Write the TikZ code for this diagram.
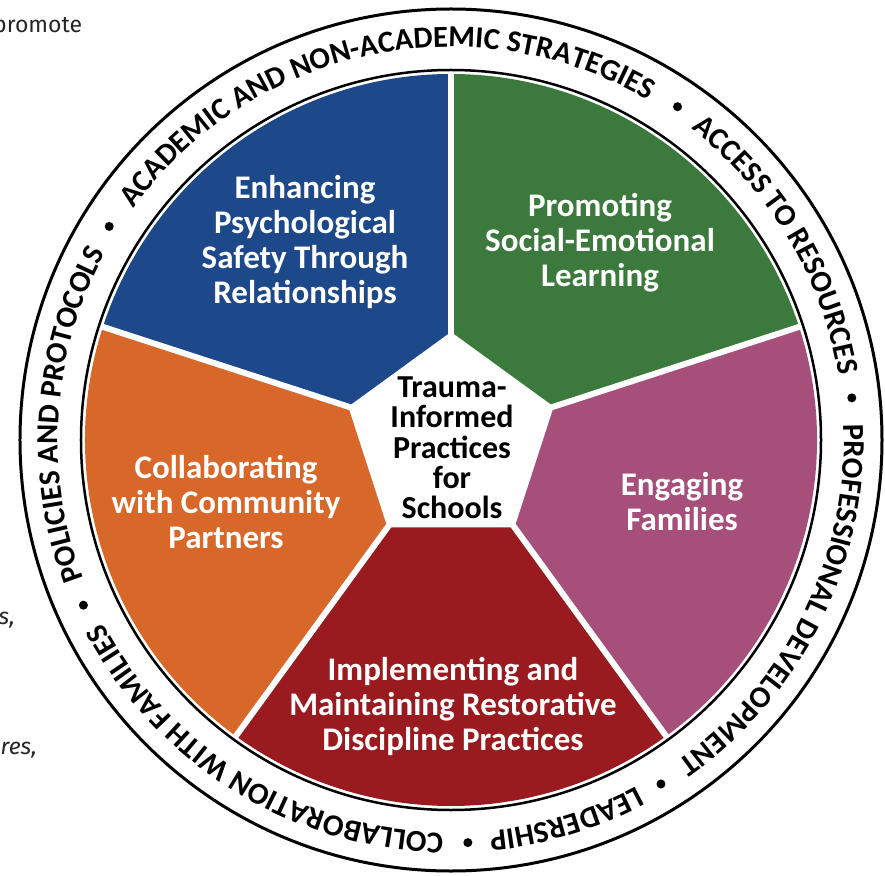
\documentclass[tikz,border=0pt]{standalone}
\usepackage{fontspec}
\setmainfont{Carlito}
\newfontfamily\handfont{Fira Sans}
\usetikzlibrary{decorations.text}
\definecolor{secblue}{HTML}{1D4889}
\definecolor{secgreen}{HTML}{3B7A3C}
\definecolor{secpurple}{HTML}{A54F7A}
\definecolor{secred}{HTML}{9A1B1F}
\definecolor{secorange}{HTML}{D8672A}
\tikzset{
  sectxt/.style={text=white, align=center, font=\bfseries\fontsize{33}{35}\selectfont, inner sep=0pt},
  centxt/.style={text=black, align=center, font=\bfseries\fontsize{32}{30.3}\selectfont, inner sep=0pt},
  handtxt/.style={text=black!85, font=\handfont\fontsize{23}{26}\selectfont, inner sep=0pt},
  ringtext/.style={decorate, decoration={text along path, text align=center,
      text={|\bfseries\fontsize{30.5}{30}\selectfont|#1}}},
  sep/.style={white, line width=6pt},
}
\begin{document}
\begin{tikzpicture}[x=1pt,y=1pt]
\useasboundingbox (-451,-435) rectangle (434,440);
\clip (-451,-435) rectangle (434,440);
\fill[white] (-451,-435) rectangle (434,440);
% side fragments
\node[handtxt, anchor=base west] (fragA) at (-458,407) {promote};
\node[handtxt, anchor=base east] (fragB) at (-436,-184) {\itshape s,};
\node[handtxt, anchor=base east] (fragC) at (-414,-314) {\itshape res,};
% sectors
\fill[secblue]   (0,0) -- (90:366pt)  arc[start angle=90,  end angle=162, radius=366pt] -- cycle;
\fill[secorange] (0,0) -- (162:366pt) arc[start angle=162, end angle=234, radius=366pt] -- cycle;
\fill[secred]    (0,0) -- (234:366pt) arc[start angle=234, end angle=306, radius=366pt] -- cycle;
\fill[secpurple] (0,0) -- (306:366pt) arc[start angle=306, end angle=378, radius=366pt] -- cycle;
\fill[secgreen]  (0,0) -- (18:366pt)  arc[start angle=18,  end angle=90,  radius=366pt] -- cycle;
\foreach \a in {90,162,234,306,18} \draw[sep] (0,0) -- (\a:368pt);
\fill[white] (90:108pt) -- (162:108pt) -- (234:108pt) -- (306:108pt) -- (18:108pt) -- cycle;
% ring
\draw[line width=2.5pt] (0,0) circle[radius=370pt];
\draw[line width=3pt] (0,0) circle[radius=431pt];
% ring text
\path[ringtext={POLICIES AND PROTOCOLS}] (204.2:393pt) arc[start angle=204.2, end angle=148, radius=393pt];
\path[ringtext={ACADEMIC AND NON-ACADEMIC STRATEGIES}] (148:393pt) arc[start angle=148, end angle=55.8, radius=393pt];
\path[ringtext={ACCESS TO RESOURCES}] (55.8:393pt) arc[start angle=55.8, end angle=6, radius=393pt];
\path[ringtext={PROFESSIONAL DEVELOPMENT}] (6:393pt) arc[start angle=6, end angle=-58.6, radius=393pt];
\path[ringtext={LEADERSHIP}] (-58.6:393pt) arc[start angle=-58.6, end angle=-87.6, radius=393pt];
\path[ringtext={COLLABORATION WITH FAMILIES}] (-87.6:393pt) arc[start angle=-87.6, end angle=-155.8, radius=393pt];
\foreach \a in {204.2,148,55.8,6,-58.6,-87.6} \fill (\a:403pt) circle[radius=4.5pt];
% sector texts
\node[sectxt] (blue) at (-146,198) {Enhancing\\Psychological\\Safety Through\\Relationships};
\node[sectxt] (green) at (149,197) {Promoting\\Social-Emotional\\Learning};
\node[sectxt] (purple) at (231,-62) {Engaging\\Families};
\node[sectxt] (red) at (2,-266) {Implementing and\\Maintaining Restorative\\Discipline Practices};
\node[sectxt] (orange) at (-225,-62) {Collaborating\\with Community\\Partners};
\node[centxt] (center) at (1,-8) {Trauma-\\Informed\\Practices\\for\\Schools};
\end{tikzpicture}
\end{document}
